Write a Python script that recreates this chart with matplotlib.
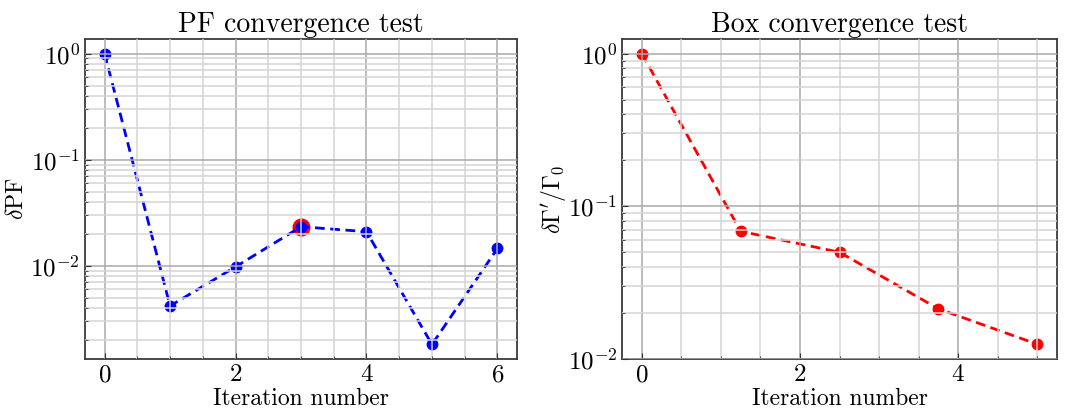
import numpy as np
import matplotlib
matplotlib.use("Agg")
import matplotlib.pyplot as plt
from matplotlib.ticker import MultipleLocator, LogLocator, NullFormatter


# =========================
# 1. data
# =========================
pf_iter = [0, 1, 2, 3, 4, 5, 6]
pf_err = [1.0, 0.0042, 0.0098, 0.0234, 0.021, 0.00182, 0.0146]
pf_best = 3

box_iter = [0, 1.25, 2.5, 3.75, 5]
box_err = [1.0, 0.0686, 0.050, 0.0213, 0.0125]


# =========================
# 2. style
# =========================
plt.rcParams["font.family"] = "cmr10"
plt.rcParams["mathtext.fontset"] = "cm"
plt.rcParams["axes.formatter.use_mathtext"] = True
plt.rcParams["axes.unicode_minus"] = True

fig = plt.figure(figsize=(10.75, 4.12), dpi=100)
ax1 = fig.add_axes([0.079, 0.1286, 0.402, 0.7767])
ax2 = fig.add_axes([0.5786, 0.1286, 0.4047, 0.7767])


def style(ax):
    ax.set_yscale("log")
    ax.xaxis.set_major_locator(MultipleLocator(2))
    ax.xaxis.set_minor_locator(MultipleLocator(0.5))
    ax.yaxis.set_minor_locator(LogLocator(base=10, subs=np.arange(2, 10)))
    ax.yaxis.set_minor_formatter(NullFormatter())
    ax.set_axisbelow(False)
    ax.grid(True, which="major", color="#aaaaaa", lw=1.1)
    ax.grid(True, which="minor", color="#d4d4d4", lw=1.1)
    ax.tick_params(which="both", direction="in", labelsize=18, colors="#333333",
                   labelcolor="black")
    ax.tick_params(which="major", length=4)
    ax.tick_params(which="minor", length=2)
    for s in ax.spines.values():
        s.set_color("#3a3a3a")
        s.set_linewidth(1.3)
    ax.set_xlabel("Iteration number", fontsize=17, labelpad=1)


# =========================
# 3. PF panel
# =========================
ax1.plot(pf_iter[pf_best], pf_err[pf_best], "o", color="red", ms=12, zorder=1.9)
ax1.plot(pf_iter, pf_err, "o--", color="blue", ms=7.5, lw=2, dashes=(3.5, 2))
style(ax1)
ax1.set_title("PF convergence test", fontsize=20, pad=5)
ax1.set_ylabel(r"$\delta\mathrm{PF}$", fontsize=17, labelpad=2)


# =========================
# 4. Box panel
# =========================
ax2.plot(box_iter, box_err, "o--", color="red", ms=7.5, lw=2, dashes=(3.5, 2))
style(ax2)
ax2.set_ylim(bottom=1e-2)
ax2.set_title("Box convergence test", fontsize=20, pad=5)
ax2.set_ylabel(r"$\delta\Gamma'/\Gamma_0$", fontsize=17, labelpad=0)

fig.savefig("out.png", dpi=100)
